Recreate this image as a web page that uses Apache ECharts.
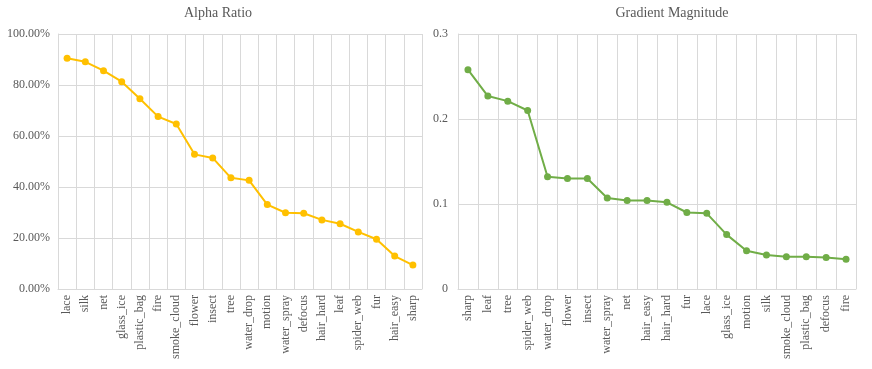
<!DOCTYPE html>
<html><head><meta charset="utf-8">
<script src="https://cdn.jsdelivr.net/npm/echarts@6/dist/echarts.min.js"></script>
<style>html,body{margin:0;padding:0;background:#fff}#c{width:872px;height:369px}</style>
</head><body><div id="c"></div>
<script>
const alphaCategories = ['lace','silk','net','glass_ice','plastic_bag','fire','smoke_cloud','flower','insect','tree','water_drop','motion','water_spray','defocus','hair_hard','leaf','spider_web','fur','hair_easy','sharp'];
const alphaValues = [90.5,89.1,85.6,81.3,74.6,67.6,64.7,52.8,51.4,43.6,42.6,33.1,29.9,29.7,27.1,25.6,22.4,19.5,12.9,9.4];
const gradCategories = ['sharp','leaf','tree','spider_web','water_drop','flower','insect','water_spray','net','hair_easy','hair_hard','fur','lace','glass_ice','motion','silk','smoke_cloud','plastic_bag','defocus','fire'];
const gradValues = [0.258,0.227,0.221,0.210,0.132,0.130,0.130,0.107,0.104,0.104,0.102,0.090,0.089,0.064,0.045,0.040,0.038,0.038,0.037,0.035];
const alphaTicks = {min:0,max:100,interval:20};
const gradTicks = {min:0,max:0.3,interval:0.1};

const font = '"Liberation Serif","Times New Roman",serif';
const txt = '#595959';
const gridCol = '#d9d9d9';
function catAxis(idx, cats){
  return {type:'category', gridIndex:idx, data:cats, boundaryGap:true,
    axisLine:{show:true,lineStyle:{color:gridCol}}, axisTick:{show:false},
    splitLine:{show:true,lineStyle:{color:gridCol}},
    axisLabel:{rotate:90,interval:0,fontFamily:font,fontSize:12,color:txt,margin:6}};
}
const chart = echarts.init(document.getElementById('c'));
chart.setOption({
  animation:false,
  title:[
    {text:'Alpha Ratio',left:213,top:1,textAlign:'center',textStyle:{fontFamily:font,fontSize:14,fontWeight:'normal',color:txt}},
    {text:'Gradient Magnitude',left:667,top:1,textAlign:'center',textStyle:{fontFamily:font,fontSize:14,fontWeight:'normal',color:txt}}
  ],
  grid:[
    {left:58,right:450,top:34,bottom:80},
    {left:458,right:16,top:34,bottom:80}
  ],
  xAxis:[catAxis(0,alphaCategories),catAxis(1,gradCategories)],
  yAxis:[
    {type:'value',gridIndex:0,min:alphaTicks.min,max:alphaTicks.max,interval:alphaTicks.interval,
     axisLine:{show:true,lineStyle:{color:gridCol}},axisTick:{show:false},
     splitLine:{lineStyle:{color:gridCol}},
     axisLabel:{fontFamily:font,fontSize:12,color:txt,margin:8,formatter:v=>v.toFixed(2)+'%'}},
    {type:'value',gridIndex:1,min:gradTicks.min,max:gradTicks.max,interval:gradTicks.interval,
     axisLine:{show:true,lineStyle:{color:gridCol}},axisTick:{show:false},
     splitLine:{lineStyle:{color:gridCol}},
     axisLabel:{fontFamily:font,fontSize:12,color:txt,margin:10,formatter:v=>v===0?'0':String(+v.toFixed(1))}}
  ],
  series:[
    {type:'line',xAxisIndex:0,yAxisIndex:0,data:alphaValues,symbol:'circle',symbolSize:7,
     lineStyle:{color:'#FFC000',width:2},itemStyle:{color:'#FFC000'}},
    {type:'line',xAxisIndex:1,yAxisIndex:1,data:gradValues,symbol:'circle',symbolSize:7,
     lineStyle:{color:'#70AD47',width:2},itemStyle:{color:'#70AD47'}}
  ]
});
</script></body></html>
